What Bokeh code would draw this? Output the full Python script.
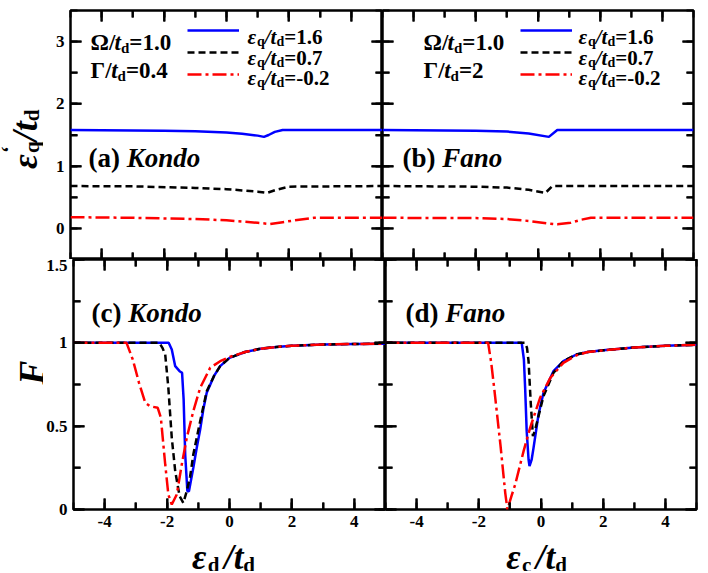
import math
from bokeh.plotting import figure
from bokeh.models import Range1d, LinearAxis, SingleIntervalTicker, Label, Legend, LegendItem
from bokeh.layouts import row, column
from bokeh.embed import file_html
from bokeh.resources import INLINE

FONT = "Liberation Serif"

# ---------------- data ----------------
a_blue_x = [-5, -2, -1, 0, 0.5, 1.0, 1.2, 1.35, 1.55, 1.8, 5]
a_blue_y = [1.58, 1.57, 1.56, 1.54, 1.52, 1.49, 1.47, 1.50, 1.55, 1.58, 1.58]
a_black_x = [-5, -3, -1, 0, 0.5, 1.0, 1.3, 1.6, 2.0, 5]
a_black_y = [0.68, 0.675, 0.65, 0.63, 0.61, 0.59, 0.57, 0.62, 0.67, 0.68]
a_red_x = [-5, -3, -1, 0, 0.5, 1.0, 1.4, 1.8, 2.2, 2.8, 5]
a_red_y = [0.18, 0.17, 0.15, 0.13, 0.11, 0.09, 0.07, 0.10, 0.13, 0.17, 0.17]

b_blue_x = [-5, -2, -1, -0.3, 0.35, 0.62, 5]
b_blue_y = [1.58, 1.57, 1.555, 1.525, 1.47, 1.58, 1.58]
b_black_x = [-5, -2, -1, -0.3, 0.24, 0.46, 5]
b_black_y = [0.68, 0.67, 0.655, 0.62, 0.57, 0.68, 0.68]
b_red_x = [-5, -2, -1, -0.3, 0.3, 0.62, 1.05, 1.4, 1.7, 5]
b_red_y = [0.17, 0.165, 0.15, 0.12, 0.08, 0.065, 0.09, 0.14, 0.17, 0.17]

c_blue_x = [-5, -1.95, -1.85, -1.74, -1.6, -1.52, -1.47, -1.42, -1.35, -1.3, -1.16, -1.05,
            -0.94, -0.84, -0.73, -0.5, -0.3, 0, 0.5, 1, 1.5, 2, 3, 4, 5]
c_blue_y = [1.0, 1.0, 0.96, 0.86, 0.83, 0.82, 0.66, 0.33, 0.11, 0.11, 0.25, 0.37,
            0.48, 0.60, 0.70, 0.80, 0.86, 0.91, 0.945, 0.965, 0.975, 0.982, 0.99, 0.993, 0.995]
c_black_x = [-5, -2.25, -2.15, -2.06, -1.96, -1.85, -1.74, -1.6, -1.48, -1.37, -1.26, -1.16,
             -0.94, -0.73, -0.5, -0.3, 0, 0.5, 1, 1.5, 2, 3, 4, 5]
c_black_y = [1.0, 1.0, 0.97, 0.93, 0.73, 0.43, 0.23, 0.08, 0.04, 0.11, 0.20, 0.33,
             0.53, 0.71, 0.80, 0.86, 0.91, 0.945, 0.965, 0.975, 0.982, 0.99, 0.993, 0.995]
c_red_x = [-5, -3.3, -3.1, -2.9, -2.7, -2.55, -2.3, -2.2, -2.06, -1.96, -1.85, -1.69, -1.53,
           -1.37, -1.16, -0.94, -0.62, -0.3, 0, 0.5, 1, 1.5, 2, 3, 4, 5]
c_red_y = [1.0, 1.0, 0.90, 0.76, 0.64, 0.62, 0.61, 0.55, 0.27, 0.09, 0.03, 0.09, 0.27,
           0.43, 0.59, 0.73, 0.85, 0.89, 0.915, 0.945, 0.965, 0.975, 0.982, 0.99, 0.993, 0.995]

d_blue_x = [-5, -0.62, -0.55, -0.51, -0.46, -0.40, -0.37, -0.3, -0.24, -0.08, 0.08, 0.4,
            0.72, 1.14, 1.5, 2, 3, 4, 5]
d_blue_y = [1.0, 1.0, 0.90, 0.73, 0.47, 0.30, 0.26, 0.30, 0.37, 0.57, 0.70, 0.83,
            0.89, 0.93, 0.945, 0.955, 0.972, 0.982, 0.988]
d_black_x = [-5, -0.51, -0.45, -0.40, -0.33, -0.26, -0.2, -0.08, 0.08, 0.4,
             0.72, 1.14, 1.5, 2, 3, 4, 5]
d_black_y = [1.0, 1.0, 0.97, 0.89, 0.64, 0.44, 0.47, 0.56, 0.68, 0.82,
             0.89, 0.93, 0.945, 0.955, 0.972, 0.982, 0.988]
d_red_x = [-5, -1.7, -1.6, -1.5, -1.3, -1.15, -1.08, -0.95, -0.83, -0.56, -0.35, -0.03,
           0.3, 0.72, 1.14, 1.5, 2, 3, 4, 5]
d_red_y = [1.0, 1.0, 0.88, 0.72, 0.38, 0.10, 0.0, 0.08, 0.15, 0.35, 0.49, 0.67,
           0.79, 0.88, 0.925, 0.945, 0.955, 0.972, 0.982, 0.988]

x_ticks = [-4, -2, 0, 2, 4]
x_minor = [-3, -1, 1, 3]
top_ticks = [0, 1, 2, 3]
top_minor = [0.5, 1.5, 2.5]
bot_ticks = [0, 0.5, 1, 1.5]
bot_minor = [0.25, 0.75, 1.25]
x_tick_labels = {-4: "-4", -2: "-2", 0: "0", 2: "2", 4: "4"}
top_tick_labels = {0: "0", 1: "1", 2: "2", 3: "3"}
bot_tick_labels = {0: "0", 0.5: "0.5", 1: "1", 1.5: "1.5"}

legend_values = ["1.6", "0.7", "-0.2"]

# ---------------- helpers ----------------
BOLD_W = {' ': 0.25, '(': 0.333, ')': 0.333, '-': 0.333, '.': 0.25, '/': 0.278, '=': 0.57,
          'a': 0.5, 'b': 0.556, 'c': 0.444, 'd': 0.556, 'q': 0.556, 't': 0.333,
          'Ω': 0.77, 'Γ': 0.62, 'F': 0.611, '‘': 0.333}
BI_W = {'K': 0.667, 'o': 0.5, 'n': 0.556, 'd': 0.5, 'F': 0.667, 't': 0.278, '/': 0.278,
        'ε': 0.45, 'a': 0.5, 'c': 0.444, ' ': 0.25}


def tw(s, size, style):
    table = BI_W if "italic" in style else BOLD_W
    return sum(table.get(ch, 0.5) for ch in s) * size


def rich(p, x, y, xo, yo, segs, angle=0.0, center=False):
    total = sum(tw(t, sz, st) for t, sz, st, dy, adv in segs if adv)
    a = -total / 2 if center else 0
    for t, sz, st, dy, adv in segs:
        if angle == 0:
            xoff, yoff = xo + a, yo + dy
        else:
            xoff, yoff = xo - dy, yo + a
        p.add_layout(Label(x=x, y=y, x_offset=xoff, y_offset=yoff, text=t,
                           text_font=FONT, text_font_size=f"{sz}px", text_font_style=st,
                           text_color="black", text_align="left",
                           text_baseline="alphabetic", angle=angle))
        if adv:
            a += tw(t, sz, st)


xr = Range1d(-5, 5)
yr_top = Range1d(-0.5, 3.5)
yr_bot = Range1d(0, 1.5)

MAJOR, MINOR, TW = 11, 7, 2   # inward tick lengths and width, px


def style_axis(ax, interval, labels, show):
    ax.ticker = SingleIntervalTicker(interval=interval, num_minor_ticks=2)
    ax.major_label_overrides = labels
    ax.background_fill_color = None
    ax.major_tick_in = MAJOR
    ax.major_tick_out = 0
    ax.minor_tick_in = MINOR
    ax.minor_tick_out = 0
    ax.major_tick_line_width = TW
    ax.minor_tick_line_width = TW
    ax.major_tick_line_color = "black"
    ax.minor_tick_line_color = "black"
    ax.axis_line_color = None
    if show:
        ax.major_label_text_font = FONT
        ax.major_label_text_font_style = "bold"
        ax.major_label_text_font_size = "17px"
        ax.major_label_text_color = "black"
        ax.major_label_standoff = 6
    else:
        ax.major_label_text_font_size = "1px"
        ax.major_label_text_color = None
        ax.major_label_standoff = 0


def make_fig(yr, left, right, top, bottom, fw, fh, show_x, show_y, yint, yl, yt, ym):
    p = figure(x_range=xr, y_range=yr, frame_width=fw, frame_height=fh,
               output_backend="svg", toolbar_location=None,
               min_border_left=left, min_border_right=right,
               min_border_top=top, min_border_bottom=bottom)
    p.grid.visible = False
    p.outline_line_color = "black"
    p.outline_line_width = 2.5
    p.background_fill_color = "white"
    p.border_fill_color = "white"
    p.add_layout(LinearAxis(), "above")
    p.add_layout(LinearAxis(), "right")
    for ax in p.below:
        style_axis(ax, 2, x_tick_labels, show_x)
    for ax in p.above:
        style_axis(ax, 2, x_tick_labels, False)
    for ax in p.left:
        style_axis(ax, yint, yl, show_y)
    for ax in p.right:
        style_axis(ax, yint, yl, False)

    # inward tick marks on all four edges, at the tick values, through the figure's scales
    x0, x1 = xr.start, xr.end
    y0, y1 = yr.start, yr.end
    dx = (x1 - x0) / fw
    dy = (y1 - y0) / fh
    hx, hy = TW / 2 * dx, TW / 2 * dy
    kw = dict(fill_color="black", line_color=None, level="overlay")
    for xs, n in ((x_ticks, MAJOR), (x_minor, MINOR)):
        k = len(xs)
        lefts = [v - hx for v in xs]
        rights = [v + hx for v in xs]
        p.quad(left=lefts, right=rights, bottom=[y0] * k, top=[y0 + n * dy] * k, **kw)
        p.quad(left=lefts, right=rights, bottom=[y1 - n * dy] * k, top=[y1] * k, **kw)
    for ys, n in ((yt, MAJOR), (ym, MINOR)):
        k = len(ys)
        bots = [v - hy for v in ys]
        tops = [v + hy for v in ys]
        p.quad(left=[x0] * k, right=[x0 + n * dx] * k, bottom=bots, top=tops, **kw)
        p.quad(left=[x1 - n * dx] * k, right=[x1] * k, bottom=bots, top=tops, **kw)
    return p


def text_fig(w, h):
    p = figure(width=w, height=h, x_range=Range1d(0, w), y_range=Range1d(0, h),
               output_backend="svg", toolbar_location=None,
               x_axis_type=None, y_axis_type=None, min_border=0)
    p.grid.visible = False
    p.outline_line_color = None
    p.background_fill_color = None
    p.border_fill_color = None
    return p


def draw(p, bx, by, kx, ky, rx, ry):
    r1 = p.line(bx, by, line_color="#0000ff", line_width=2.5)
    r2 = p.line(kx, ky, line_color="black", line_width=2.5, line_dash="7 4")
    r3 = p.line(rx, ry, line_color="#ff0000", line_width=2.5, line_dash="14 4 3 4")
    return [r1, r2, r3]


# panel frames: x 70..382 | 382..693 ; y 10..259 | 259..509
p_a = make_fig(yr_top, 27, 0, 10, 0, 312, 249, False, True, 1, top_tick_labels, top_ticks, top_minor)
p_b = make_fig(yr_top, 0, 13, 10, 0, 311, 249, False, False, 1, top_tick_labels, top_ticks, top_minor)
p_c = make_fig(yr_bot, 27, 0, 0, 26, 312, 250, True, True, 0.5, bot_tick_labels, bot_ticks, bot_minor)
p_d = make_fig(yr_bot, 0, 13, 0, 26, 311, 250, True, False, 0.5, bot_tick_labels, bot_ticks, bot_minor)

ra = draw(p_a, a_blue_x, a_blue_y, a_black_x, a_black_y, a_red_x, a_red_y)
rb = draw(p_b, b_blue_x, b_blue_y, b_black_x, b_black_y, b_red_x, b_red_y)
draw(p_c, c_blue_x, c_blue_y, c_black_x, c_black_y, c_red_x, c_red_y)
draw(p_d, d_blue_x, d_blue_y, d_black_x, d_black_y, d_red_x, d_red_y)


def add_legend(p, rs, locx, gamma, textx, parx):
    leg = Legend(items=[LegendItem(label=" ", renderers=[r]) for r in rs],
                 location=(locx, 174), glyph_width=52, glyph_height=22,
                 label_height=22, label_width=1, label_standoff=0,
                 label_text_font_size="1px", spacing=0, padding=0, margin=0,
                 background_fill_alpha=0, border_line_alpha=0)
    p.add_layout(leg, "center")
    bs, ss = 21, 14
    for i, v in enumerate(legend_values):
        rich(p, -5, 3.5, textx, [-26, -47, -67][i], [
            ("ε", bs, "bold italic", 0, True), ("q", ss, "bold", -5, True),
            ("/", bs, "bold italic", 0, True), ("t", bs, "bold italic", 0, True),
            ("d", ss, "bold", -5, True), ("=" + v, bs, "bold", 0, True)])
    ps, pss = 23, 15
    rich(p, -5, 3.5, parx, -32, [("Ω/", ps, "bold", 0, True), ("t", ps, "bold italic", 0, True),
                                 ("d", pss, "bold", -5, True), ("=1.0", ps, "bold", 0, True)])
    rich(p, -5, 3.5, parx, -60, [("Γ/", ps, "bold", 0, True), ("t", ps, "bold italic", 0, True),
                                 ("d", pss, "bold", -5, True), ("=" + gamma, ps, "bold", 0, True)])


add_legend(p_a, ra, 117, "0.4", 177, 20)
add_legend(p_b, rb, 138, "2", 196, 41)

rich(p_a, -5, 3.5, 18, -147, [("(a) ", 27, "bold", 0, True), ("Kondo", 27, "bold italic", 0, True)])
rich(p_b, -5, 3.5, 20, -147, [("(b) ", 27, "bold", 0, True), ("Fano", 27, "bold italic", 0, True)])
rich(p_c, -5, 1.5, 18, -53, [("(c) ", 27, "bold", 0, True), ("Kondo", 27, "bold italic", 0, True)])
rich(p_d, -5, 1.5, 20, -53, [("(d) ", 27, "bold", 0, True), ("Fano", 27, "bold italic", 0, True)])

half = math.pi / 2
t_a = text_fig(43, 259)     # image y 0..259
t_c = text_fig(43, 276)     # image y 259..535
t_x = text_fig(706, 36)     # image y 535..571

rich(t_a, 24, 259 - 134, 0, 0, [("ε", 36, "bold italic", 0, True), ("‘", 21, "bold", 16, False),
                                ("q", 21, "bold", -7, True), ("/", 36, "bold italic", 0, True),
                                ("t", 36, "bold italic", 0, True), ("d", 21, "bold", -7, True)],
     angle=half, center=True)
rich(t_c, 31, 535 - 384, 0, 0, [("F", 36, "bold italic", 0, True)], angle=half, center=True)
for cx, sub in ((223, "d"), (536, "c")):
    rich(t_x, cx, 571 - 557, 0, 0, [("ε", 35, "bold italic", 0, True), (sub, 21, "bold", -7, True),
                                    (" ", 18, "bold", 0, True), ("/", 35, "bold italic", 0, True),
                                    ("t", 35, "bold italic", 0, True), ("d", 21, "bold", -7, True)],
         center=True)

layout = column(row(t_a, p_a, p_b, spacing=0), row(t_c, p_c, p_d, spacing=0), t_x, spacing=0)
open("out.html", "w").write(file_html(layout, INLINE))
